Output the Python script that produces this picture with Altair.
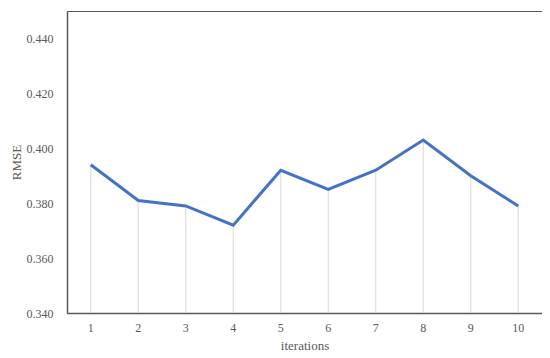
import altair as alt
import pandas as pd

iterations = [1, 2, 3, 4, 5, 6, 7, 8, 9, 10]
rmse = [0.394, 0.381, 0.379, 0.372, 0.392, 0.385, 0.392, 0.403, 0.390, 0.379]
y_ticks = [0.34, 0.36, 0.38, 0.40, 0.42, 0.44]

df = pd.DataFrame({"iterations": iterations, "RMSE": rmse, "base": [0.34] * len(rmse)})

FONT = "Liberation Serif"
GREY = "#595959"

x = alt.X("iterations:O", title="iterations",
          scale=alt.Scale(paddingInner=0, paddingOuter=0),
          axis=alt.Axis(labelAngle=0, ticks=False, labelPadding=9, titlePadding=6,
                        domainColor=GREY, domainWidth=1.5))
y = alt.Y("RMSE:Q", title="RMSE",
          scale=alt.Scale(domain=[0.34, 0.45], nice=False, zero=False),
          axis=alt.Axis(values=y_ticks, format=".3f", grid=False, ticks=False,
                        labelPadding=14, titlePadding=3, domainColor=GREY, domainWidth=1.5))

drops = alt.Chart(df).mark_rule(color="#d9d9d9", strokeWidth=1).encode(
    x=x, y=y, y2="base:Q")
line = alt.Chart(df).mark_line(color="#4472C4", strokeWidth=3).encode(x=x, y=y)

chart = alt.layer(drops, line).properties(
    width=475, height=302,
    autosize=alt.AutoSizeParams(type="none"),
    padding={"left": 59, "top": 3, "right": 0, "bottom": 40},
).configure_view(stroke=GREY, strokeWidth=1).configure_axis(
    labelFont=FONT, titleFont=FONT, labelFontSize=12, titleFontSize=13,
    labelColor=GREY, titleColor=GREY, titleFontWeight="normal",
)

chart.save("out.html", embed_options={"renderer": "svg", "actions": False})
